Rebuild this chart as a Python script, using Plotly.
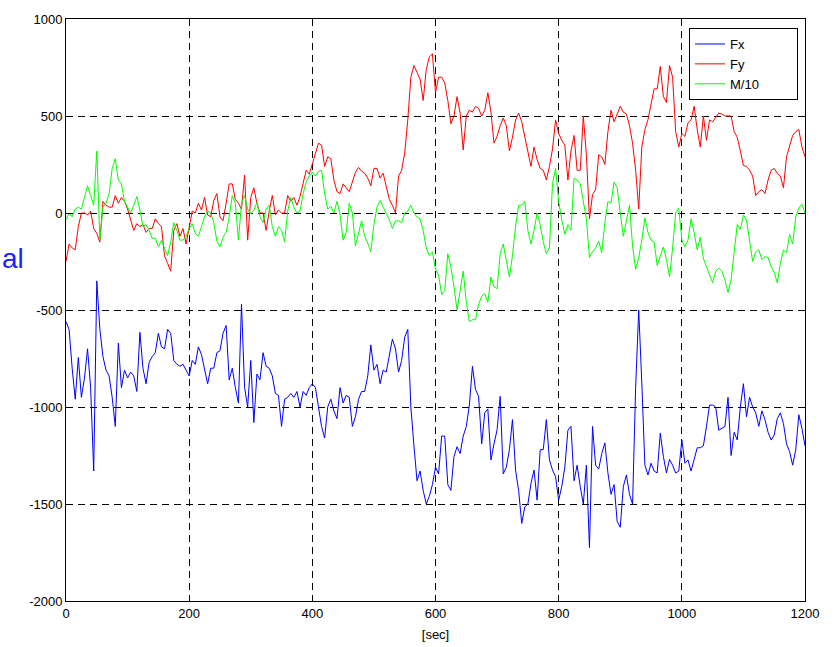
import plotly.graph_objects as go

# time axis (seconds), sampled every 5 s
t = list(range(0, 1201, 5))

fx = [-560, -600, -800, -960, -745, -950, -850, -700, -900, -1330,
      -350, -600, -740, -810, -840, -950, -1100, -670, -900, -810,
      -850, -820, -840, -920, -615, -800, -880, -770, -740, -720,
      -620, -690, -700, -600, -620, -760, -780, -790, -780, -810,
      -840,
      -760, -780, -690, -730, -805, -880, -800, -800, -720, -710,
      -620, -580, -860, -800, -900, -980, -470, -900, -1000, -760,
      -1080, -830, -860, -720, -790, -800, -840, -930, -940, -1100,
      -960, -950, -930, -950, -920, -1000, -920, -940, -900, -880,
      -900, -990, -1100, -1160, -1000, -960, -1020, -1060, -900, -980,
      -940, -950, -1100, -1050, -960, -920, -920, -840, -680, -810,
      -780, -880, -810, -820, -740, -650, -700, -820, -760, -640,
      -600, -1000, -1200, -1380, -1330, -1430, -1500, -1460, -1400, -1310,
      -1345, -1150, -1150, -1400, -1430, -1255, -1205, -1240, -1150, -1100,
      -990, -790, -910, -945, -1190, -1030, -1010, -1273, -1190, -1117,
      -945, -1345, -1310, -1220, -1065, -1325, -1430, -1600, -1515, -1500,
      -1395, -1325, -1480, -1220, -1220, -1065, -1273, -1325, -1360, -1480,
      -1410, -1310, -1120, -1100, -1380, -1300, -1410, -1500, -1300, -1725,
      -1100, -1300, -1320, -1240, -1185, -1340, -1450, -1400, -1590, -1620,
      -1410, -1350, -1450, -1500, -900, -500, -875, -1300, -1350, -1290,
      -1330, -1340, -1135, -1255, -1340, -1270, -1300, -1340, -1330, -1170,
      -1290, -1273, -1330, -1270, -1210, -1210, -1200, -1100, -990, -990,
      -1000, -1120, -1110, -1100, -950, -1250, -1130, -1170, -1000, -880,
      -1050, -950, -1000, -1030, -1100, -1020, -1065, -1130, -1170, -1145,
      -1060, -1030, -1085, -1190, -1230, -1300, -1220, -1040, -1110, -1200]

fy = [-250, -160, -180, -190, -70, 0, 0, -10, 10, -80,
      -105, -150, 60, 40, 30, 30, 90, 50, 80, 60,
      20, -30, -90, -55, -70, -60, -100, -80, -80, -30,
      -55, -70, -220, -260, -300, -90, -55, -120, -80, -160,
      -70,
      10, 0, 50, 15, 80, -10, -20, 65, 100, -20,
      -40, 50, 150, 150, 70, 50, 20, 195, -140, 80,
      130, 50, 0, 0, -90, 10, 90, -10, 15, 0,
      0, 90, 60, 80, 40, 85, 150, 220, 200, 250,
      300, 360, 350, 240, 290, 280, 170, 110, 100, 150,
      130, 110, 160, 210, 235, 215, 205, 180, 140, 230,
      230, 180, 205, 130, 70, 40, 0, 190, 220, 310,
      480, 700, 760, 725, 690, 580, 740, 805, 820, 620,
      700, 700, 670, 580, 460, 500, 600, 515, 325, 500,
      530, 520, 550, 540, 500, 530, 620, 520, 360, 395,
      450, 490, 450, 320, 390, 480, 515, 470, 390, 300,
      240, 340, 275, 230, 220, 170, 240, 330, 480, 410,
      375, 350, 170, 320, 400, 220, 220, 500, 300, -30,
      95, 120, 300, 290, 250, 420, 530, 470, 510, 550,
      520, 510, 450, 360, 220, 20, 340, 430, 480, 570,
      640, 640, 755, 600, 570, 760, 700, 420, 340, 410,
      395, 465, 480, 550, 430, 340, 500, 375, 480, 470,
      490, 515, 510, 500, 500, 500, 420, 390, 320, 245,
      240, 220, 190, 90, 110, 120, 100, 170, 220, 230,
      205, 190, 130, 290, 345, 400, 420, 430, 340, 290]

m10 = [-35, 0, -20, 20, 30, 20, 80, 140, 90, 40,
       320, -140, 30, 50, 100, 230, 280, 170, 150, 60,
       30, 0, 40, 85, 15, -70, -60, -90, -130, -130,
       -175, -140, -180, -220, -150, -50, -90, -140, -140, -120,
       -80,
       -55, -105, -120, -70, -20, 10, 0, -50, -145, -175,
       -125, -100, -20, 90, 50, -140, 50, 90, 20, -5,
       15, 55, -20, -50, 20, 40, -70, -120, -70, -90,
       -150, 10, 80, 30, 0, 10, 100, 160, 190, 210,
       190, 215, 220, 100, 20, 35, 0, 60, -10, -140,
       -100, 50, 0, -170, -100, -40, -120, -155, -200, -60,
       30, 65, 30, 0, -35, -80, -40, -40, -50, 0,
       10, 40, 0, -20, -30, -90, -180, -220, -200, -290,
       -320, -420, -400, -210, -280, -380, -500, -400, -300, -460,
       -560, -550, -550, -470, -430, -415, -460, -330, -380, -390,
       -210, -160, -250, -330, -220, -70, 40, 40, 60, -90,
       -160, -90, 0, -60, -150, -210, -180, 150, 230, 60,
       -35, -110, -60, -90, 180, 170, 150, 50, -30, -230,
       -200, -180, -145, -205, -50, 60, 50, 160, 130, 0,
       -120, -40, 40, -170, -290, -230, -140, -25, -100, -140,
       -150, -270, -225, -175, -240, -330, -180, 0, 25, -140,
       -175, -140, -30, -100, -190, -125, -235, -275, -325, -360,
       -300, -285, -300, -345, -410, -345, -200, -60, -85, -10,
       -35, -135, -250, -200, -190, -240, -225, -230, -275, -305,
       -360, -260, -190, -205, -110, -160, -20, 25, 45, 0]

series_names = ['Fx', 'Fy', 'M/10']
x_ticks = [0, 200, 400, 600, 800, 1000, 1200]
y_ticks = [1000, 500, 0, -500, -1000, -1500, -2000]

NB = '\u00a0'
fig = go.Figure()
fig.add_trace(go.Scatter(x=t, y=fx, mode='lines', name=series_names[0] + NB * 13,
                         line=dict(color='#0000ff', width=1)))
fig.add_trace(go.Scatter(x=t, y=fy, mode='lines', name=series_names[1] + NB * 13,
                         line=dict(color='#ff0000', width=1)))
fig.add_trace(go.Scatter(x=t, y=m10, mode='lines', name=series_names[2] + NB * 9,
                         line=dict(color='#00ff00', width=1)))

axis_common = dict(showline=True, linecolor='black', linewidth=1, mirror='ticks',
                   ticks='inside', ticklen=5, tickcolor='black', automargin=False,
                   showgrid=True, gridcolor='black', gridwidth=1, griddash='7px,5px',
                   zeroline=False, tickfont=dict(size=13, color='black'))

fig.update_layout(
    width=835, height=647,
    margin=dict(l=66, r=30, t=19, b=46),
    plot_bgcolor='white', paper_bgcolor='white',
    font=dict(family='Liberation Sans, Arial, sans-serif', size=13, color='black'),
    xaxis=dict(range=[0, 1200], tickvals=x_ticks, ticktext=[str(v) for v in x_ticks],
               title=dict(text='[sec]', standoff=10, font=dict(size=13)), **axis_common),
    yaxis=dict(range=[-2000, 1000], tickvals=y_ticks, ticktext=[str(v) for v in y_ticks],
               **axis_common),
    legend=dict(x=0.9905, y=0.9845, xanchor='right', yanchor='top',
                bordercolor='black', borderwidth=1, bgcolor='white',
                font=dict(size=13, color='black'), tracegroupgap=0),
    showlegend=True,
)

fig.add_annotation(text='al', xref='paper', yref='paper', x=-0.0893, y=0.589,
                   xanchor='left', yanchor='middle', showarrow=False,
                   font=dict(size=28, color='#2020ff', family='Liberation Sans, Arial, sans-serif'))

fig.write_html('out.html', config={'displayModeBar': False},
               post_script="document.body.style.margin='0';")
